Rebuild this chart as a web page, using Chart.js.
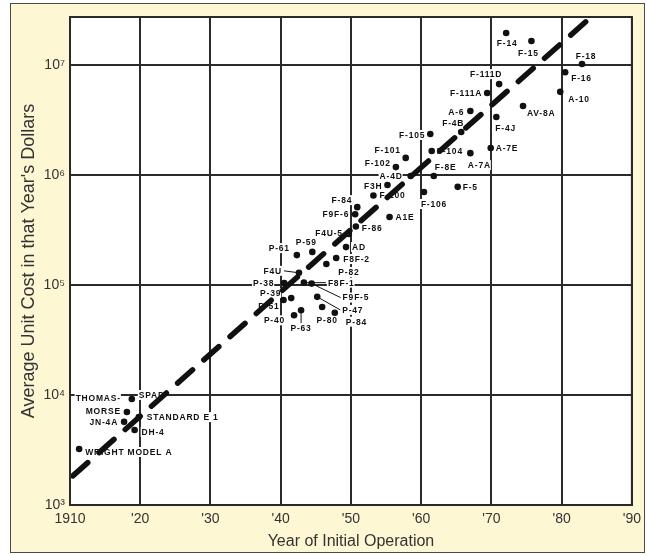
<!DOCTYPE html>
<html>
<head>
<meta charset="utf-8">
<script src="https://cdn.jsdelivr.net/npm/chart.js@4.4.1/dist/chart.umd.min.js"></script>
<style>
  html, body { margin: 0; padding: 0; background: #fff; }
  #frame { position: absolute; left: 10px; top: 3px; width: 635px; height: 550px; box-sizing: border-box;
           border: 1px solid #4a4a4a; background: #fdf7d4; }
  #cost { position: absolute; left: 0; top: 0; }
</style>
</head>
<body>
<div id="frame"></div>
<canvas id="cost" width="647" height="555"></canvas>
<script>
// aircraft, year of initial operation, average unit cost (then-year dollars)
const aircraft = [
  'WRIGHT MODEL A', 'JN-4A', 'THOMAS-MORSE', 'SPAD', 'STANDARD E 1', 'DH-4',
  'P-38', 'P-51', 'P-39', 'P-40', 'P-61', 'F4U', 'P-63', 'F8F-1', 'F9F-5', 'P-59',
  'P-47', 'P-80', 'P-82', 'P-84', 'F8F-2', 'AD', 'F4U-5',
  'F9F-6', 'F-86', 'F-84', 'F-100', 'F3H', 'A1E', 'F-102', 'F-101', 'A-4D', 'F-106',
  'F-105', 'F-104', 'F-8E', 'F-5', 'F-4B', 'A-7A', 'A-6', 'F-111A', 'A-7E', 'F-4J',
  'F-111D', 'F-14', 'AV-8A', 'F-15', 'A-10', 'F-16', 'F-18'
];
const years = [
  1911.3, 1917.7, 1918.1, 1918.8, 1919.8, 1919.2,
  1940.5, 1940.4, 1941.5, 1941.9, 1942.3, 1942.6, 1942.9, 1943.3, 1944.4, 1944.5,
  1945.2, 1945.9, 1946.5, 1947.7, 1947.9, 1949.3, 1949.7,
  1950.6, 1950.7, 1950.9, 1953.2, 1955.2, 1955.5, 1956.4, 1957.8, 1958.5, 1960.4,
  1961.3, 1961.5, 1961.8, 1965.2, 1965.7, 1967.0, 1967.0, 1969.4, 1969.9, 1970.7,
  1971.1, 1972.1, 1974.5, 1975.7, 1979.8, 1980.5, 1982.9
];
const unitCosts = [
  3230, 5700, 7000, 9200, 6300, 4800,
  104000, 73000, 76000, 53000, 187000, 129000, 59000, 105000, 103000, 200000,
  78000, 63000, 155000, 56000, 176000, 221000, 291000,
  440000, 340000, 510000, 650000, 810000, 415000, 1180000, 1430000, 980000, 700000,
  2360000, 1650000, 980000, 780000, 2460000, 1580000, 3820000, 5560000, 1760000, 3370000,
  6700000, 19500000, 4240000, 16500000, 5700000, 8600000, 10200000
];

// dashed trend line
const trendYears = [1910.4, 1984.2];
const trendCosts = [1840, 27300000];

const yearTicks = [1910, 1920, 1930, 1940, 1950, 1960, 1970, 1980, 1990];
const yearTickLabels = ['1910', "'20", "'30", "'40", "'50", "'60", "'70", "'80", "'90"];
const costTicks = [1e3, 1e4, 1e5, 1e6, 1e7];
const costTickLabels = ['10\u00B3', '10\u2074', '10\u2075', '10\u2076', '10\u2077'];

// where each name sits relative to its dot: [dx, dy, align, leader]
const labelSpots = {
  'WRIGHT MODEL A': [6, 3, 'l'], 'JN-4A': [-6, 0, 'r'], 'THOMAS-MORSE': [-6, -1, 'r'],
  'SPAD': [7, -4, 'l'], 'STANDARD E 1': [8, 0, 'l'], 'DH-4': [7, 2, 'l'],
  'P-38': [-10, 0, 'r'], 'P-51': [-4, 6, 'r'], 'P-39': [-10, -5, 'r'], 'P-40': [-9, 5, 'r'],
  'P-61': [-7, -7, 'r'], 'F4U': [-17, -2, 'r', true], 'P-63': [0, 18, 'c', true],
  'F8F-1': [24, 0, 'l', true], 'F9F-5': [31, 14, 'l', true], 'P-59': [-6, -10, 'c'],
  'P-47': [25, 13, 'l', true], 'P-80': [5, 13, 'c'], 'P-82': [12, 8, 'l'], 'P-84': [11, 9, 'l'],
  'F8F-2': [7, 1, 'l'], 'AD': [6, 0, 'l'], 'F4U-5': [-6, -1, 'r'],
  'F9F-6': [-6, 0, 'r'], 'F-86': [6, 2, 'l'], 'F-84': [-5, -7, 'r'], 'F-100': [6, 0, 'l'],
  'F3H': [-5, 1, 'r'], 'A1E': [6, 0, 'l'], 'F-102': [-5, -4, 'r'], 'F-101': [-5, -8, 'r'],
  'A-4D': [-8, 0, 'r'], 'F-106': [10, 12, 'c'], 'F-105': [-5, 1, 'r'], 'F-104': [5, 0, 'l'],
  'F-8E': [1, -9, 'l'], 'F-5': [5, 0, 'l'], 'F-4B': [-8, -9, 'c'], 'A-7A': [9, 12, 'c'],
  'A-6': [-6, 1, 'r'], 'F-111A': [-5, 0, 'r'], 'A-7E': [5, 0, 'l'], 'F-4J': [-1, 11, 'l'],
  'F-111D': [-13, -10, 'c'], 'F-14': [1, 10, 'c'], 'AV-8A': [4, 7, 'l'], 'F-15': [-3, 12, 'c'],
  'A-10': [8, 7, 'l'], 'F-16': [6, 6, 'l'], 'F-18': [4, -8, 'c']
};

const planeLabels = {
  id: 'planeLabels',
  beforeDraw(chart) {
    const a = chart.chartArea, ctx = chart.ctx;
    ctx.save();
    ctx.fillStyle = '#fff';
    ctx.fillRect(a.left, a.top, a.right - a.left, a.bottom - a.top);
    ctx.restore();
  },
  beforeDatasetsDraw(chart) {
    const ctx = chart.ctx, xs = chart.scales.x, ys = chart.scales.y;
    ctx.save();
    ctx.font = 'bold 8.5px "Liberation Sans", Arial, sans-serif';
    ctx.letterSpacing = '0.8px';
    ctx.textBaseline = 'middle';
    const items = [];
    aircraft.forEach((name, i) => {
      const px = xs.getPixelForValue(years[i]);
      const py = ys.getPixelForValue(unitCosts[i]);
      const [dx, dy, align, leader] = labelSpots[name] || [6, 0, 'l'];
      const lines = name === 'THOMAS-MORSE' ? ['THOMAS-', 'MORSE'] : [name];
      lines.forEach((t, k) => {
        const w = ctx.measureText(t).width;
        const ly = py + dy - (lines.length - 1 - k) * 13;
        let lx = px + dx;
        if (align === 'r') lx -= w;
        if (align === 'c') lx -= w / 2;
        items.push({ t, lx, ly, w });
      });
      if (leader) {
        let ex = px + dx, ey = py + dy;
        if (align === 'l') ex -= 2;
        if (align === 'r') ex += 2;
        if (align === 'c') ey -= 5 * Math.sign(dy);
        items.push({ leader: [px, py, ex, ey] });
      }
    });
    ctx.fillStyle = '#fff';
    items.forEach(it => { if (it.t) ctx.fillRect(it.lx - 1, it.ly - 5, it.w + 1, 10); });
    ctx.fillStyle = '#111';
    items.forEach(it => { if (it.t) ctx.fillText(it.t, it.lx, it.ly + 0.5); });
    ctx.strokeStyle = '#111';
    ctx.lineWidth = 1;
    items.forEach(it => {
      if (!it.leader) return;
      ctx.beginPath();
      ctx.moveTo(it.leader[0], it.leader[1]);
      ctx.lineTo(it.leader[2], it.leader[3]);
      ctx.stroke();
    });
    ctx.restore();
  },
  afterDraw(chart) {
    const a = chart.chartArea, ctx = chart.ctx;
    ctx.save();
    ctx.strokeStyle = '#2a2a2a';
    ctx.lineWidth = 2;
    ctx.strokeRect(a.left, a.top, a.right - a.left, a.bottom - a.top);
    ctx.restore();
  }
};

new Chart(document.getElementById('cost'), {
  type: 'scatter',
  data: {
    datasets: [
      {
        type: 'line',
        data: trendYears.map((y, i) => ({ x: y, y: trendCosts[i] })),
        borderColor: '#111',
        borderWidth: 5.5,
        borderDash: [20, 15],
        borderCapStyle: 'round',
        pointRadius: 0,
        fill: false
      },
      {
        data: years.map((y, i) => ({ x: y, y: unitCosts[i] })),
        pointRadius: 3.3,
        pointBackgroundColor: '#111',
        pointBorderColor: '#111',
        pointBorderWidth: 0
      }
    ]
  },
  options: {
    responsive: false,
    animation: false,
    devicePixelRatio: 1,
    layout: { padding: { top: 17, right: 13, left: 0, bottom: 0 } },
    plugins: { legend: { display: false }, tooltip: { enabled: false } },
    scales: {
      x: {
        type: 'linear',
        min: 1910,
        max: 1990,
        afterBuildTicks: s => { s.ticks = yearTicks.map(v => ({ value: v })); },
        afterFit: s => { s.height = 50; },
        ticks: {
          autoSkip: false,
          maxRotation: 0,
          padding: 6,
          color: '#333',
          font: { size: 14, family: 'Arial, "Liberation Sans", sans-serif' },
          callback: v => yearTickLabels[yearTicks.indexOf(Math.round(v))]
        },
        grid: { color: '#2a2a2a', lineWidth: 2, drawTicks: false },
        border: { color: '#2a2a2a', width: 2 },
        title: {
          display: true,
          text: 'Year of Initial Operation',
          color: '#333',
          font: { size: 16, family: 'Arial, "Liberation Sans", sans-serif' },
          padding: { top: 0, bottom: 4 }
        }
      },
      y: {
        type: 'logarithmic',
        min: 1000,
        max: 27300000,
        afterBuildTicks: s => { s.ticks = costTicks.map(v => ({ value: v })); },
        afterFit: s => { s.width = 70; },
        ticks: {
          padding: 5,
          color: '#333',
          font: { size: 14, family: 'Arial, "Liberation Sans", sans-serif' },
          callback: v => costTickLabels[costTicks.indexOf(v)]
        },
        grid: { color: '#2a2a2a', lineWidth: 2, drawTicks: false },
        border: { color: '#2a2a2a', width: 2 },
        title: {
          display: true,
          text: "Average Unit Cost in that Year's Dollars",
          color: '#333',
          font: { size: 18, family: 'Arial, "Liberation Sans", sans-serif' },
          padding: { top: 18, bottom: 0 }
        }
      }
    }
  },
  plugins: [planeLabels]
});
</script>
</body>
</html>
